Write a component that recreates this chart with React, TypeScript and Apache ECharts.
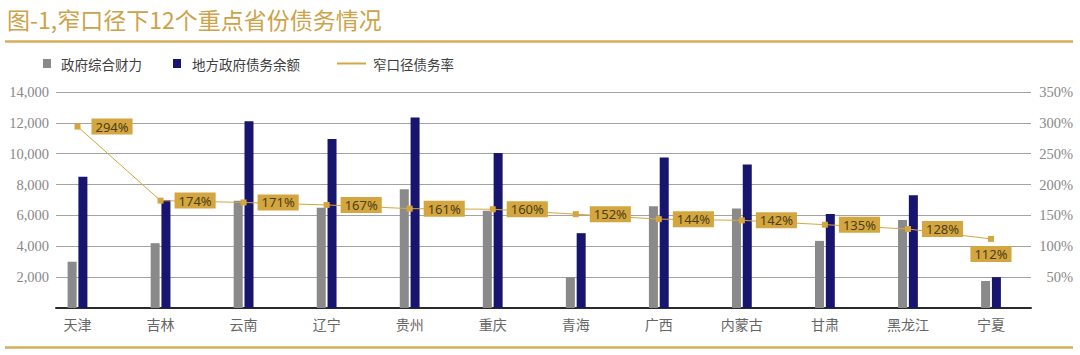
import React, { useEffect, useRef } from "react";
import * as echarts from "echarts";

const categories = ["天津", "吉林", "云南", "辽宁", "贵州", "重庆", "青海", "广西", "内蒙古", "甘肃", "黑龙江", "宁夏"];
const fiscalPower = [3000, 4200, 6950, 6500, 7700, 6300, 2000, 6600, 6450, 4350, 5700, 1750];
const localDebt = [8500, 7000, 12100, 10950, 12350, 10050, 4850, 9750, 9300, 6100, 7300, 2000];
const debtRatio = [294, 174, 171, 167, 161, 160, 152, 144, 142, 135, 128, 112];
const leftTicks = { min: 0, max: 14000, interval: 2000 };
const rightTicks = { min: 0, max: 350, interval: 50 };
const seriesNames = ["政府综合财力", "地方政府债务余额", "窄口径债务率"];
const title = "图-1,窄口径下12个重点省份债务情况";

const GOLD = "#D3A640";
const GRAY = "#8a8a8a";
const NAVY = "#17156e";

export default function App() {
  const ref = useRef<HTMLDivElement>(null);
  useEffect(() => {
    if (!ref.current) return;
    const chart = echarts.init(ref.current, null, { renderer: "svg" });
    const lblFont = "Liberation Serif";
    chart.setOption({
      animation: false,
      backgroundColor: "#ffffff",
      grid: [
        { left: 56, right: 49, top: 92, bottom: 47 },
        { left: 77.5, width: 913.5, top: 92, bottom: 47 },
      ],
      xAxis: [
        {
          gridIndex: 0, type: "value", min: 0, max: 1,
          axisLine: { show: true, onZero: false, lineStyle: { color: "#2a2a2a", width: 2 } },
          axisTick: { show: false }, axisLabel: { show: false }, splitLine: { show: false },
        },
        {
          gridIndex: 1, type: "category", boundaryGap: false, data: categories,
          axisLine: { show: false }, axisTick: { show: false },
          axisLabel: { margin: 9, color: "#666", fontSize: 14, fontFamily: "Noto Sans CJK SC" },
          splitLine: { show: false },
        },
      ],
      yAxis: [
        {
          gridIndex: 0, type: "value", ...leftTicks,
          axisLine: { show: false }, axisTick: { show: false },
          axisLabel: {
            margin: 7, color: "#888", fontSize: 14.5, fontFamily: lblFont,
            padding: [0, 0, 8, 0],
            formatter: (v: number) => (v === 0 ? "" : v.toLocaleString("en-US")),
          },
          splitLine: { show: true, lineStyle: { color: "#a3a3a3", width: 1 } },
        },
        {
          gridIndex: 0, type: "value", position: "right", ...rightTicks,
          axisLine: { show: false }, axisTick: { show: false },
          axisLabel: {
            margin: 42, align: "right", color: "#888", fontSize: 14.5, fontFamily: lblFont,
            padding: [0, 0, 8, 0],
            formatter: (v: number) => (v === 0 ? "" : v + "%"),
          },
          splitLine: { show: false },
        },
        { gridIndex: 1, type: "value", ...leftTicks, show: false },
        { gridIndex: 1, type: "value", ...rightTicks, show: false },
      ],
      series: [
        {
          name: seriesNames[0], type: "bar", xAxisIndex: 1, yAxisIndex: 2,
          data: fiscalPower, barWidth: 9, barGap: "20%",
          itemStyle: { color: GRAY },
        },
        {
          name: seriesNames[1], type: "bar", xAxisIndex: 1, yAxisIndex: 2,
          data: localDebt, barWidth: 9, barGap: "20%",
          itemStyle: { color: NAVY },
        },
        {
          name: seriesNames[2], type: "line", xAxisIndex: 1, yAxisIndex: 3,
          data: debtRatio.map((v, i) =>
            i === debtRatio.length - 1
              ? { value: v, label: { position: "bottom", distance: 4 } }
              : v
          ),
          symbol: "rect", symbolSize: 6,
          itemStyle: { color: GOLD },
          lineStyle: { color: GOLD, width: 1 },
          label: {
            show: true, position: "right", distance: 11,
            formatter: "{c}%",
            backgroundColor: GOLD, color: "#4d3d18",
            fontSize: 13, fontFamily: "Noto Sans", lineHeight: 15,
            padding: [1, 4, 0, 4],
          },
          z: 5,
        },
      ],
      graphic: [
        {
          type: "text", left: 7, top: 7,
          style: { text: title, fill: "#CDA349", fontSize: 23, fontFamily: "Noto Sans CJK SC" },
        },
        { type: "line", shape: { x1: 5, y1: 41.5, x2: 1073, y2: 41.5 }, style: { stroke: "#D5AE5B", lineWidth: 2.5 } },
        { type: "line", shape: { x1: 5, y1: 347.5, x2: 1073, y2: 347.5 }, style: { stroke: "#D5AE5B", lineWidth: 2.5 } },
        { type: "rect", shape: { x: 43, y: 59, width: 8, height: 9 }, style: { fill: GRAY } },
        {
          type: "text", x: 61, y: 63.5,
          style: { text: seriesNames[0], fill: "#404040", fontSize: 13.5, fontFamily: "Noto Sans CJK SC", verticalAlign: "middle" },
        },
        { type: "rect", shape: { x: 173, y: 59, width: 8, height: 9 }, style: { fill: NAVY } },
        {
          type: "text", x: 192, y: 63.5,
          style: { text: seriesNames[1], fill: "#404040", fontSize: 13.5, fontFamily: "Noto Sans CJK SC", verticalAlign: "middle" },
        },
        { type: "line", shape: { x1: 337, y1: 63.5, x2: 366, y2: 63.5 }, style: { stroke: GOLD, lineWidth: 2 } },
        {
          type: "text", x: 373, y: 63.5,
          style: { text: seriesNames[2], fill: "#404040", fontSize: 13.5, fontFamily: "Noto Sans CJK SC", verticalAlign: "middle" },
        },
      ],
    });
    return () => chart.dispose();
  }, []);
  return (
    <div
      ref={ref}
      style={{ position: "fixed", left: 0, top: 0, width: 1080, height: 355, background: "#fff" }}
    />
  );
}
